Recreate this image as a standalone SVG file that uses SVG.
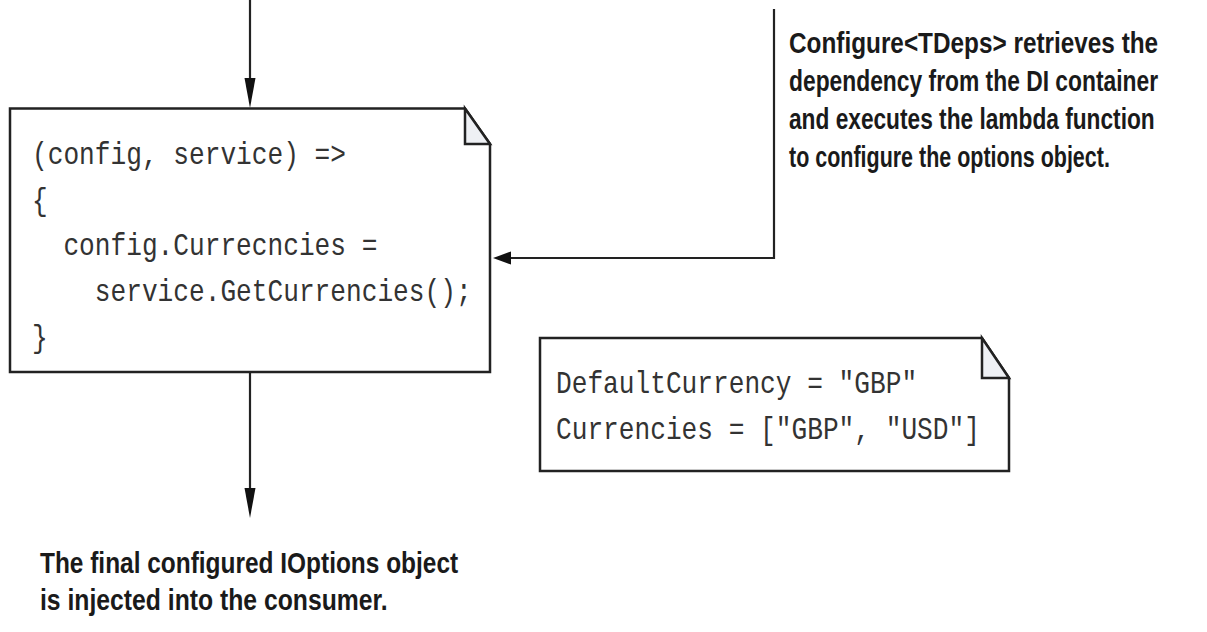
<svg xmlns="http://www.w3.org/2000/svg" width="1207" height="632" viewBox="0 0 1207 632">
<style>
.box{fill:#fff;stroke:#222;stroke-width:2.5;stroke-linejoin:miter}
.fold{fill:#eef0f4;stroke:#222;stroke-width:2.5;stroke-linejoin:miter}
.code{font-family:"Liberation Mono","DejaVu Sans Mono",monospace;font-size:32px;fill:#333}
.note{font-family:"Liberation Sans",Arial,sans-serif;font-weight:bold;font-size:29px;fill:#1a1a1a}
.line{fill:none;stroke:#222;stroke-width:2.2}
.head{fill:#111}
</style>
<rect width="1207" height="632" fill="#fff"/>
<g id="connectors">
<line class="line" x1="250" y1="0" x2="250" y2="82"/>
<polygon class="head" points="244.5,78 255.5,78 250,108"/>
<line class="line" x1="250" y1="372" x2="250" y2="492"/>
<polygon class="head" points="244.5,488 255.5,488 250,518"/>
<polyline class="line" points="774,9 774,258 508,258"/>
<polygon class="head" points="493,258 511,251.5 511,264.5"/>
</g>
<g id="lambda-box">
<path class="box" d="M10,108.5 H465 L490,144 V372 H10 Z"/>
<path class="fold" d="M465,108.5 V144 H490 Z"/>
<g transform="translate(32,0) scale(0.818,1)">
<text class="code" x="0" y="164">(config, service) =&gt;</text>
<text class="code" x="0" y="210">{</text>
<text class="code" x="0" y="255" xml:space="preserve">  config.Currecncies =</text>
<text class="code" x="0" y="301" xml:space="preserve">    service.GetCurrencies();</text>
<text class="code" x="0" y="347">}</text>
</g>
</g>
<g id="options-box">
<path class="box" d="M540,338 H982 L1009,378 V471 H540 Z"/>
<path class="fold" d="M982,338 V378 H1009 Z"/>
<g transform="translate(556,0) scale(0.818,1)">
<text class="code" x="0" y="393">DefaultCurrency = "GBP"</text>
<text class="code" x="0" y="439">Currencies = ["GBP", "USD"]</text>
</g>
</g>
<g id="configure-note">
<text class="note" transform="translate(789,53) scale(0.839,1)" x="0" y="0" textLength="440" lengthAdjust="spacingAndGlyphs">Configure&lt;TDeps&gt; retrieves the</text>
<text class="note" transform="translate(789,91) scale(0.787,1)" x="0" y="0" textLength="469" lengthAdjust="spacingAndGlyphs">dependency from the DI container</text>
<text class="note" transform="translate(789,129) scale(0.783,1)" x="0" y="0" textLength="467" lengthAdjust="spacingAndGlyphs">and executes the lambda function</text>
<text class="note" transform="translate(789,167) scale(0.741,1)" x="0" y="0" textLength="433" lengthAdjust="spacingAndGlyphs">to configure the options object.</text>
</g>
<g id="final-note">
<text class="note" transform="translate(40,573) scale(0.843,1)" x="0" y="0" textLength="496" lengthAdjust="spacingAndGlyphs">The final configured IOptions object</text>
<text class="note" transform="translate(40,610) scale(0.85,1)" x="0" y="0" textLength="409" lengthAdjust="spacingAndGlyphs">is injected into the consumer.</text>
</g>
</svg>
